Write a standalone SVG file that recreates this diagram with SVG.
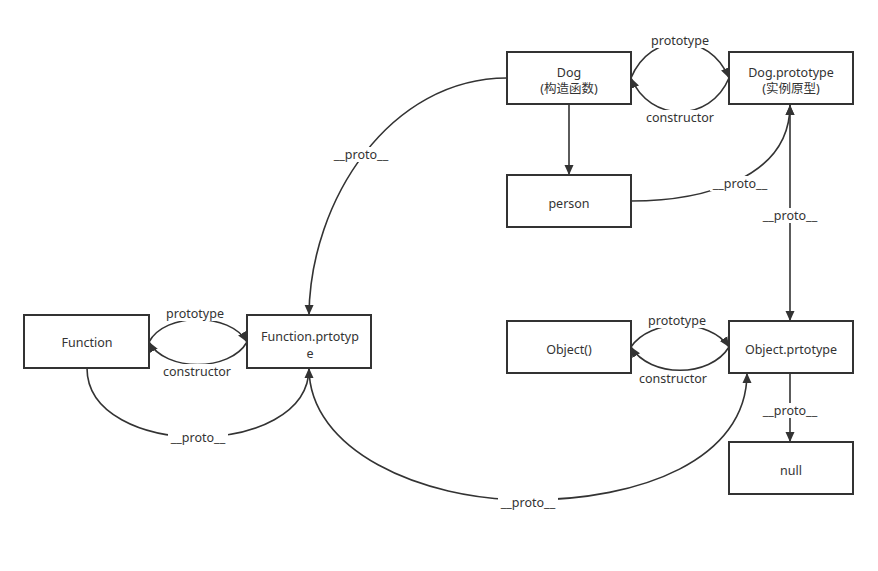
<svg xmlns="http://www.w3.org/2000/svg" width="878" height="571" viewBox="0 0 878 571">
<style>
.box{fill:#fff;stroke:#333;stroke-width:2}
.t{font-family:"Noto Sans","Noto Sans CJK SC",sans-serif;font-size:12.5px;fill:#333;text-anchor:middle;dominant-baseline:central}
.e{fill:none;stroke:#333;stroke-width:1.6}
.lbl{font-family:"Noto Sans","Noto Sans CJK SC",sans-serif;font-size:12.5px;fill:#333;text-anchor:middle;dominant-baseline:central}
.bg{fill:#fff}
</style>
<defs>
<marker id="arr" viewBox="0 0 10 10" refX="10" refY="5" markerWidth="10" markerHeight="10" markerUnits="userSpaceOnUse" orient="auto-start-reverse">
<path d="M0,0.5 L10,5 L0,9.5 Z" fill="#333"/>
</marker>
</defs>
<rect width="878" height="571" fill="#fff"/>
<g id="connectors">
<path class="e" d="M631 78 C650 31 710 31 729 78" marker-end="url(#arr)"/>
<path class="e" d="M729 78 C710 123 650 123 631 78" marker-end="url(#arr)"/>
<path class="e" d="M149 342 C165 312 230 312 247 342" marker-end="url(#arr)"/>
<path class="e" d="M247 342 C230 372 165 372 149 342" marker-end="url(#arr)"/>
<path class="e" d="M631 347 C650 318 710 318 729 347" marker-end="url(#arr)"/>
<path class="e" d="M729 347 C710 378 650 378 631 347" marker-end="url(#arr)"/>
<path class="e" d="M569 105 L569 175" marker-end="url(#arr)"/>
<path class="e" d="M507 78 C390 78 310 200 309 315" marker-end="url(#arr)"/>
<path class="e" d="M631 201 C700 201 790 180 790 105" marker-end="url(#arr)"/>
<path class="e" d="M790 105 L790 321" marker-start="url(#arr)" marker-end="url(#arr)"/>
<path class="e" d="M790 373 L790 442" marker-end="url(#arr)"/>
<path class="e" d="M87 368 C87 460 309 460 309 368" marker-end="url(#arr)"/>
<path class="e" d="M309 368 C309 450 420 500 528 500 C640 500 747 460 747 373" marker-end="url(#arr)"/>
<rect class="bg" x="649" y="33" width="62" height="15"/><text class="lbl" x="680" y="40">prototype</text>
<rect class="bg" x="643" y="110" width="74" height="15"/><text class="lbl" x="680" y="117">constructor</text>
<rect class="bg" x="164" y="306" width="62" height="15"/><text class="lbl" x="195" y="313">prototype</text>
<rect class="bg" x="160" y="364" width="74" height="15"/><text class="lbl" x="197" y="371">constructor</text>
<rect class="bg" x="646" y="313" width="62" height="15"/><text class="lbl" x="677" y="320">prototype</text>
<rect class="bg" x="636" y="371" width="74" height="15"/><text class="lbl" x="673" y="378">constructor</text>
<rect class="bg" x="331" y="147" width="60" height="15"/><text class="lbl" x="361" y="154">__proto__</text>
<rect class="bg" x="710" y="176" width="60" height="15"/><text class="lbl" x="740" y="183">__proto__</text>
<rect class="bg" x="760" y="208" width="60" height="15"/><text class="lbl" x="790" y="215">__proto__</text>
<rect class="bg" x="760" y="403" width="60" height="15"/><text class="lbl" x="790" y="410">__proto__</text>
<rect class="bg" x="168" y="430" width="60" height="15"/><text class="lbl" x="198" y="437">__proto__</text>
<rect class="bg" x="498" y="495" width="60" height="15"/><text class="lbl" x="528" y="502">__proto__</text>
</g>
<g id="dog"><rect class="box" x="507" y="52" width="124" height="52"/><text class="t" x="569" y="72">Dog</text><text class="t" x="569" y="88">(构造函数)</text></g>
<g id="dogPrototype"><rect class="box" x="729" y="52" width="124" height="52"/><text class="t" x="791" y="72">Dog.prototype</text><text class="t" x="791" y="88">(实例原型)</text></g>
<g id="person"><rect class="box" x="507" y="175" width="124" height="52"/><text class="t" x="569" y="203">person</text></g>
<g id="function"><rect class="box" x="24" y="315" width="125" height="53"/><text class="t" x="87" y="342">Function</text></g>
<g id="functionPrototype"><rect class="box" x="247" y="315" width="124" height="53"/><text class="t" x="310" y="336">Function.prtotyp</text><text class="t" x="310" y="353">e</text></g>
<g id="object"><rect class="box" x="507" y="321" width="124" height="52"/><text class="t" x="569" y="349">Object()</text></g>
<g id="objectPrototype"><rect class="box" x="729" y="321" width="124" height="52"/><text class="t" x="791" y="349">Object.prtotype</text></g>
<g id="null"><rect class="box" x="729" y="442" width="124" height="52"/><text class="t" x="791" y="470">null</text></g>
</svg>
